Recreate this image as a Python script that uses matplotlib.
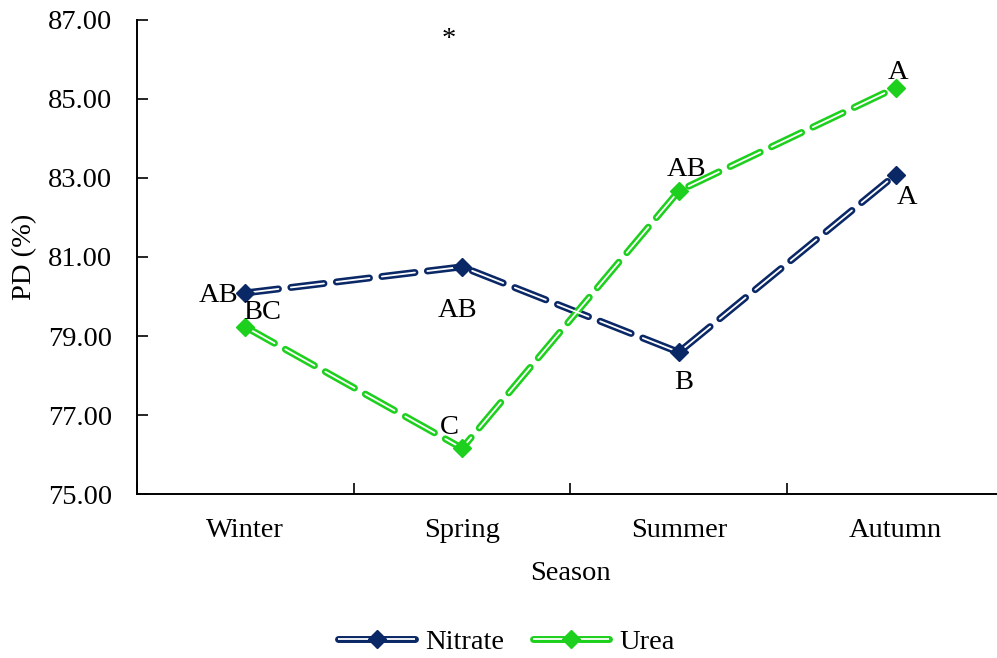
import matplotlib
matplotlib.use("Agg")
import matplotlib.pyplot as plt
from matplotlib.lines import Line2D

plt.rcParams['font.family'] = ['Liberation Serif', 'DejaVu Serif']
plt.rcParams['lines.scale_dashes'] = False

seasons = ['Winter', 'Spring', 'Summer', 'Autumn']
nitrate = [80.09, 80.75, 78.59, 83.08]
urea = [79.23, 76.16, 82.67, 85.28]
nitrate_letters = ['AB', 'AB', 'B', 'A']
urea_letters = ['BC', 'C', 'AB', 'A']
yticks = [75, 77, 79, 81, 83, 85, 87]

# letter label positions (x, y of the letters' centre)
nitrate_label_pos = [(-0.124, 80.09), (0.98, 79.71), (2.02, 77.89), (3.055, 82.57)]
urea_label_pos = [(0.078, 79.66), (0.94, 76.75), (2.037, 83.30), (3.01, 85.73)]

navy = '#0A2766'
green = '#1ED01E'
x = list(range(len(seasons)))
fs = 20.5
dash = (24, 9)

fig = plt.figure(figsize=(9.97, 6.58), dpi=100)
ax = fig.add_axes([0.1374, 0.249, 0.8696, 0.721])


def fancy_line(vals, color):
    ax.plot(x, vals, color=color, lw=5, dashes=dash, dash_capstyle='round', zorder=2)
    ax.plot(x, vals, color='white', lw=1.3, dashes=dash, dash_capstyle='round', zorder=3)
    ax.plot(x, vals, ls='none', marker='D', ms=9, color=color, zorder=4)


fancy_line(nitrate, navy)
fancy_line(urea, green)

for (px, py), lab in zip(nitrate_label_pos, nitrate_letters):
    ax.text(px, py - 0.24, lab, ha='center', va='baseline', fontsize=fs, zorder=5)
for (px, py), lab in zip(urea_label_pos, urea_letters):
    ax.text(px, py - 0.24, lab, ha='center', va='baseline', fontsize=fs, zorder=5)
ax.text(0.94, 86.5, '*', ha='center', va='center', fontsize=fs, clip_on=False)

ax.set_xlim(-0.5, 3.5)
ax.set_ylim(75, 87)
ax.set_yticks(yticks)
ax.set_yticklabels([f'{v:.2f}' for v in yticks], fontsize=fs)
ax.set_xticks([-0.5, 0.5, 1.5, 2.5, 3.5])
ax.set_xticklabels([])
ax.set_xticks(x, minor=True)
ax.set_xticklabels(seasons, minor=True, fontsize=fs)
ax.tick_params(axis='x', which='major', direction='in', length=8, width=1.2)
ax.tick_params(axis='x', which='minor', length=0, pad=17)
ax.tick_params(axis='y', direction='in', length=8, width=1.2, pad=18)
for s in ['top', 'right']:
    ax.spines[s].set_visible(False)
for s in ['left', 'bottom']:
    ax.spines[s].set_linewidth(1.4)

ax.set_xlabel('Season', fontsize=fs, labelpad=13)
ax.set_ylabel('PD (%)', fontsize=fs, labelpad=8)


def legend_handle(color):
    return (Line2D([], [], color=color, lw=5, dashes=dash, dash_capstyle='round'),
            Line2D([], [], color='white', lw=1.3, dashes=dash),
            Line2D([], [], ls='none', marker='D', ms=9, color=color))


fig.legend([legend_handle(navy), legend_handle(green)], ['Nitrate', 'Urea'],
           loc='center', bbox_to_anchor=(0.508, 0.024), ncol=2, frameon=False,
           fontsize=fs, handlelength=2.7, columnspacing=1.0, handletextpad=0.35)

fig.savefig('out.png', dpi=100)
